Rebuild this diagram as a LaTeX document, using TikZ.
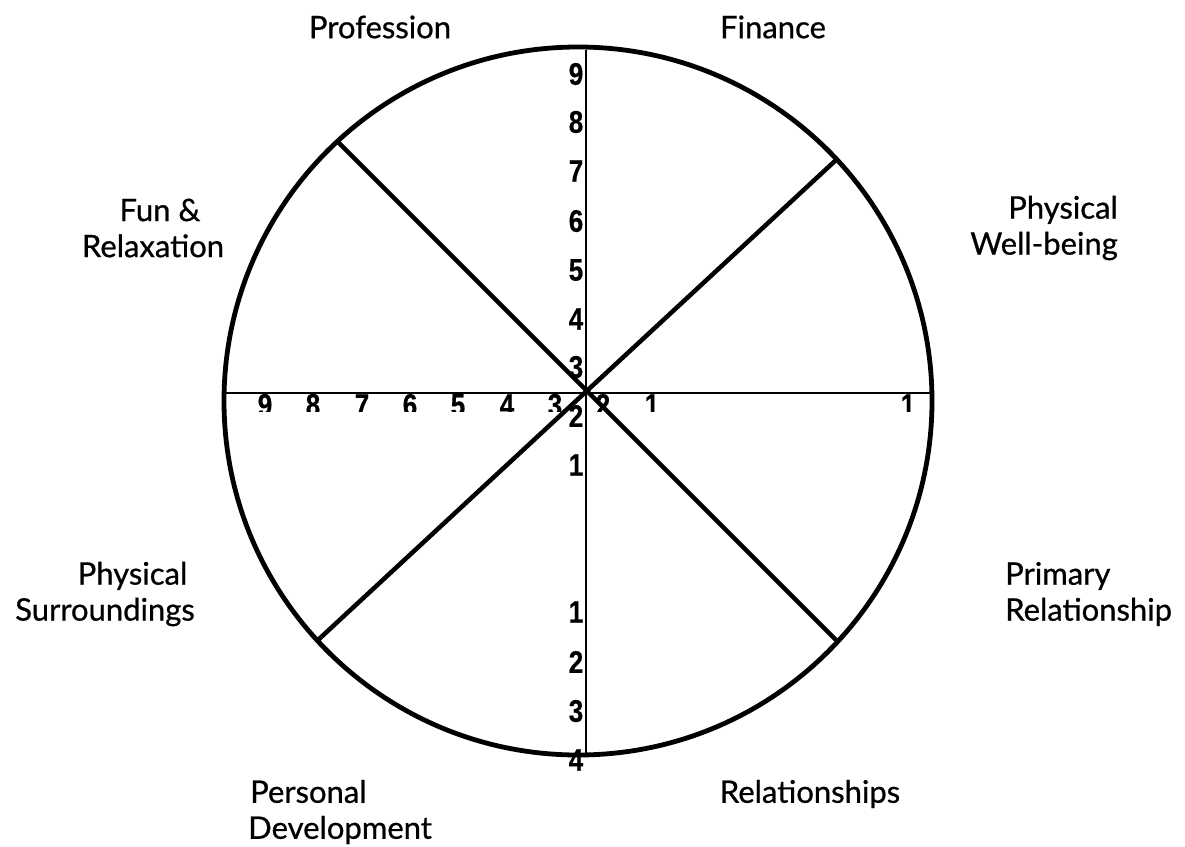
\documentclass[tikz,border=0pt]{standalone}
\usepackage{fontspec}
\setmainfont{Lato}
\newfontfamily\lblfont{Lato}[FakeBold=0.7]
\newfontfamily\digitfont{Liberation Sans}[FakeBold=0.6]
\begin{document}
\begin{tikzpicture}[x=1pt,y=-1pt,
  lbl/.style={font=\lblfont\fontsize{31}{36}\selectfont, inner sep=0pt},
  dg/.style={font=\digitfont\bfseries\fontsize{26}{26}\selectfont, inner sep=0pt, yscale=1.2},
  rim/.style={line width=4.8pt},
  spoke/.style={line width=4.5pt},
  axis/.style={line width=2.4pt}]
\useasboundingbox (0,0) rectangle (1185,846);
% reference points
\coordinate (c) at (586,393);
\coordinate (ne) at (836,160);
\coordinate (nw) at (338,142);
\coordinate (sw) at (318,640);
\coordinate (se) at (836,640);
\coordinate (top) at (586,50);
\coordinate (bot) at (586,753);
\coordinate (lft) at (224,393);
\coordinate (rgt) at (931,393);
% vertical digits
\node[dg] (v9) at (576,74) {9};
\node[dg] (v8) at (576,122) {8};
\node[dg] (v7) at (576,171) {7};
\node[dg] (v6) at (576,221) {6};
\node[dg] (v5) at (576,270) {5};
\node[dg] (v4) at (576,319) {4};
\node[dg] (v3) at (576,367) {3};
\node[dg] (v2) at (576,416) {2};
\node[dg] (v1) at (576,465) {1};
\node[dg] (w1) at (576,612) {1};
\node[dg] (w2) at (576,662) {2};
\node[dg] (w3) at (576,711) {3};
\node[dg] (w4) at (576,760) {4};
% horizontal digits (clipped)
\begin{scope}
\clip (200,380) rectangle (950,411);
\node[dg] (h9) at (265,405) {9};
\node[dg] (h8) at (313,405) {8};
\node[dg] (h7) at (362,405) {7};
\node[dg] (h6) at (410,405) {6};
\node[dg] (h5) at (458,405) {5};
\node[dg] (h4) at (507,405) {4};
\node[dg] (h3) at (555,405) {3};
\node[dg] (h2) at (603,405) {2};
\node[dg] (h1) at (652,405) {1};
\node[dg] (h0) at (908,405) {1};
\end{scope}
% axes
\draw[axis] (top) -- (bot);
\draw[axis] (lft) -- (rgt);
% spokes
\draw[spoke] (nw) -- (se);
\draw[spoke] (ne) -- (sw);
% rim
\draw[rim] (578,401) circle [radius=354pt];
% labels
\node[lbl] (prof) at (380,27) {Profession};
\node[lbl] (fin) at (773,27) {Finance};
\node[lbl, align=center] (fun) at (153,228) {\hspace*{14pt}Fun \&\\Relaxation};
\node[lbl, align=right, anchor=east] (phw) at (1118,228) {Physical\\Well-being};
\node[lbl, align=center] (phs) at (105,594) {\hspace*{55pt}Physical\\Surroundings};
\node[lbl, align=left, anchor=west] (pri) at (1005,594) {Primary\\Relationship};
\node[lbl, align=left, anchor=west] (pers) at (248,812) {\hspace*{2pt}Personal\\Development};
\node[lbl] (rel) at (810,794) {Relationships};
\end{tikzpicture}
\end{document}
